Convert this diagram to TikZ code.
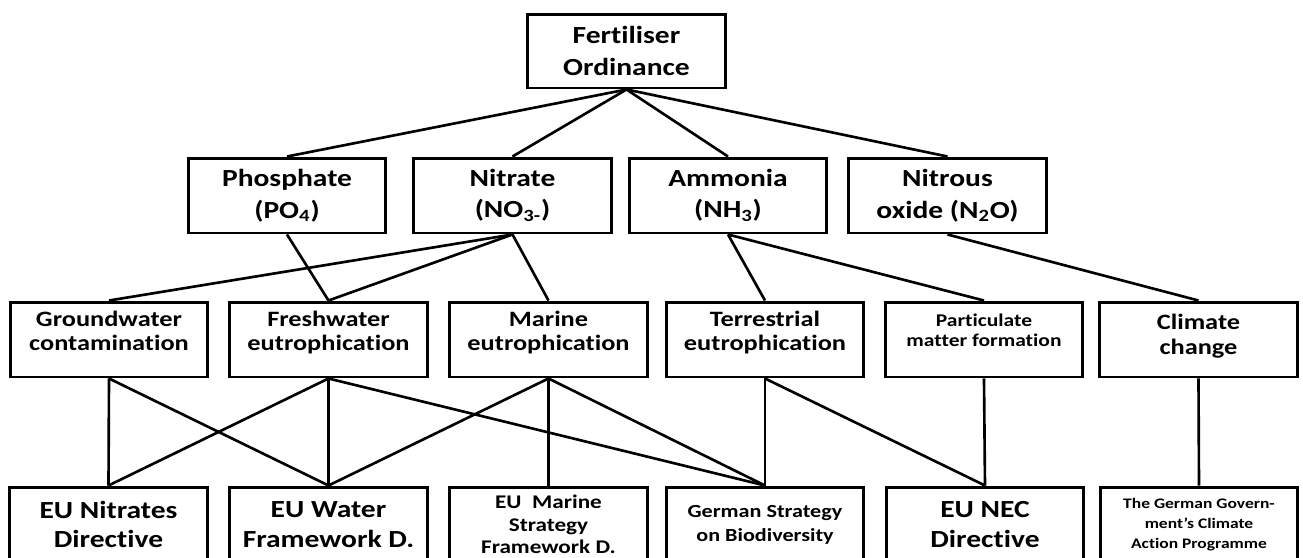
\documentclass[tikz,border=0pt]{standalone}
\usepackage{fontspec}
\setmainfont{Carlito}[FakeStretch=1.2,Ligatures=NoCommon]
\begin{document}
\begin{tikzpicture}[x=0.02cm,y=-0.02cm,
  box/.style={draw,line width=1.7pt,minimum width=3.96cm,minimum height=1.5cm,inner sep=0pt,align=center},
  big/.style={font=\bfseries\fontsize{14}{18}\selectfont},
  mid/.style={font=\bfseries\fontsize{12.5}{13.5}\selectfont,text depth=10pt},
  link/.style={line width=1.5pt}]
\clip (0,0) rectangle (1303,558);
% top
\node[box,big,minimum height=1.48cm] (fert) at (626.5,51) {Fertiliser\\Ordinance};
% substances
\node[box,big] (phos) at (287,195.5) {Phosphate\\(PO\textsubscript{4})};
\node[box,big] (nitr) at (512.5,195.5) {Nitrate\\(NO\textsubscript{3-})};
\node[box,big] (ammo) at (728,195.5) {Ammonia\\(NH\textsubscript{3})};
\node[box,big] (nitox) at (947.5,195.5) {Nitrous\\oxide (N\textsubscript{2}O)};
% impacts
\node[box,mid] (ground) at (109,339.5) {Groundwater\\contamination};
\node[box,mid] (fresh) at (328.5,339.5) {Freshwater\\eutrophication};
\node[box,mid] (marine) at (548.5,339.5) {Marine\\eutrophication};
\node[box,mid] (terr) at (765,339.5) {Terrestrial\\eutrophication};
\node[box,font=\bfseries\fontsize{10.2}{11.5}\selectfont,text depth=11pt] (partic) at (984,339.5) {Particulate\\matter formation};
\node[box,font=\bfseries\fontsize{12.5}{14.7}\selectfont,text depth=6pt] (climate) at (1198.5,339.5) {Climate\\change};
% policies
\node[box,font=\bfseries\fontsize{14}{17}\selectfont] (nitrdir) at (108.5,524.5) {EU Nitrates\\Directive};
\node[box,font=\bfseries\fontsize{14}{17}\selectfont] (water) at (328.5,524.5) {EU Water\\Framework D.};
\node[box,font=\bfseries\fontsize{11}{12.8}\selectfont] (msfd) at (548.5,524.5) {EU\ \ Marine\\Strategy\\Framework D.};
\node[box,font=\bfseries\fontsize{10.5}{13.6}\selectfont] (biodiv) at (765,524.5) {German Strategy\\on Biodiversity};
\node[box,font=\bfseries\fontsize{14}{17}\selectfont] (nec) at (985,524.5) {EU NEC\\Directive};
\node[box,font=\bfseries\fontsize{8.3}{11.3}\selectfont] (climprog) at (1199,524.5) {The German Govern-\\ment’s Climate\\Action Programme};
% links
\foreach \a in {phos,nitr,ammo,nitox}
  \draw[link] (fert.south) -- (\a.north);
\draw[link] (phos.south) -- (fresh.north);
\foreach \a in {ground,fresh,marine}
  \draw[link] (nitr.south) -- (\a.north);
\draw[link] (ammo.south) -- (terr.north);
\draw[link] (ammo.south) -- (partic.north);
\draw[link] (nitox.south) -- (climate.north);
\draw[link] (ground.south) -- (nitrdir.north);
\draw[link] (ground.south) -- (water.north);
\foreach \a in {nitrdir,water,biodiv}
  \draw[link] (fresh.south) -- (\a.north);
\foreach \a in {water,msfd,biodiv}
  \draw[link] (marine.south) -- (\a.north);
\draw[link] (terr.south) -- (biodiv.north);
\draw[link] (terr.south) -- (nec.north);
\draw[link] (partic.south) -- (nec.north);
\draw[link] (climate.south) -- (climprog.north);
\end{tikzpicture}
\end{document}
